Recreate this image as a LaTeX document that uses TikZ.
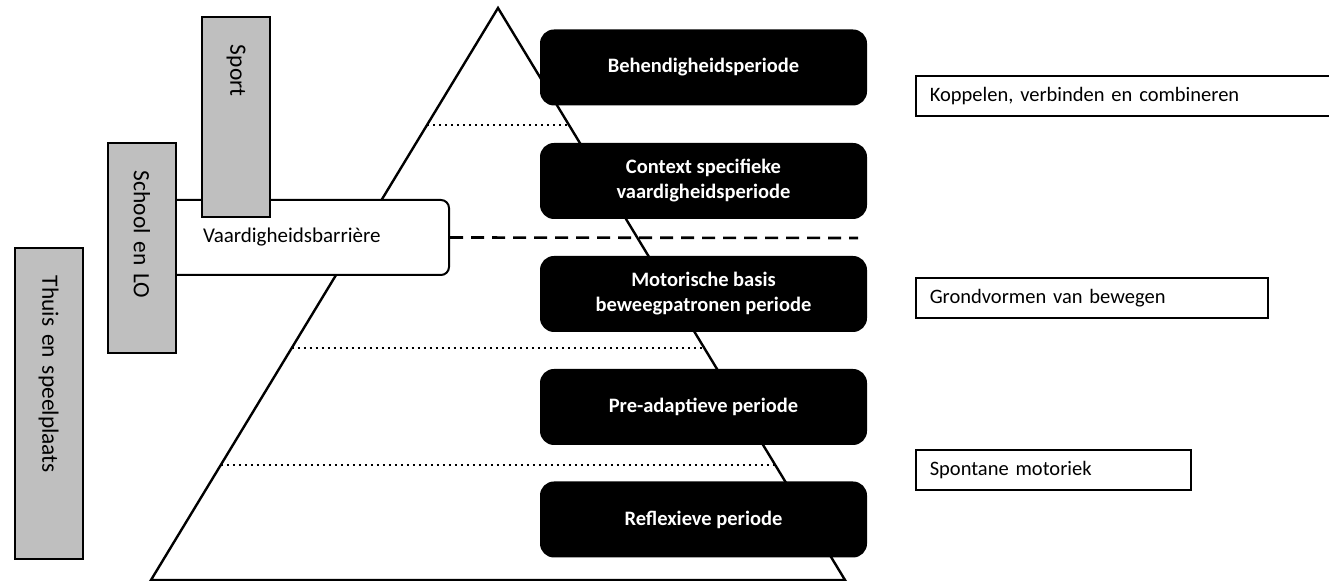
\documentclass[tikz,border=0pt]{standalone}
\usepackage{fontspec}
\setmainfont{Carlito}
\usetikzlibrary{calc,positioning}
\definecolor{boxgray}{RGB}{191,191,191}

\tikzset{
  phasebox/.style={fill=black, text=white, rounded corners=7pt, minimum width=163.5pt,
    minimum height=38pt, inner sep=0pt, align=center, font=\fontsize{10.25}{12.5}\selectfont\bfseries},
  placebox/.style={draw, fill=boxgray, line width=1pt, rotate=-90, minimum height=34pt,
    inner xsep=14pt, text width=#1, align=left, font=\fontsize{11.7}{14}\selectfont},
  barrierbox/.style={draw, fill=white, line width=1pt, rounded corners=4pt, minimum height=37.5pt,
    inner xsep=21pt, text width=102pt, align=left, anchor=west, font=\fontsize{10.5}{12.5}\selectfont},
  notebox/.style={draw, line width=0.8pt, minimum height=20pt, inner xsep=7pt, text width=#1,
    align=left, anchor=west, font=\fontsize{10.25}{12.5}\selectfont},
  levelline/.style={line width=1.2pt, dash pattern=on 1.2pt off 1.8pt},
}

\begin{document}
\begin{tikzpicture}[x=0.5pt,y=-0.5pt] % pixel units, flip y axis
  \useasboundingbox (0,0) rectangle (1329,581);

  % pyramid
  \coordinate (apex) at (498,8);
  \coordinate (baseL) at (151,580);
  \coordinate (baseR) at (845,580);
  \draw[line width=1.2pt] (baseL) -- (apex) -- (baseR) -- cycle;
  \foreach \y in {125,348,465}{
      \draw[levelline] ($(apex)!{(\y-8)/572}!(baseL)$) -- ($(apex)!{(\y-8)/572}!(baseR)$);
    }

  % phases
  \foreach \name/\y/\txt in {behend/67.5/Behendigheidsperiode,
      context/181/{Context specifieke\\vaardigheidsperiode},
      basis/294/{Motorische basis\\beweegpatronen periode},
      preadapt/407/Pre-adaptieve periode,
      reflex/519.5/Reflexieve periode}{
      \node[phasebox] (\name) at (703.5,\y) {\txt};
    }

  % barrier
  \node[barrierbox] (barrier) at (160,237.5) {Vaardigheidsbarrière};
  \coordinate (dashend) at (858,238);
  \draw[line width=1.3pt, dash pattern=on 6.5pt off 4pt] (barrier.east) -- (dashend);

  % settings
  \node[placebox=127.5pt] (thuis) at (48.5,403.5) {Thuis en speelplaats};
  \node[placebox=77pt] (school) at (142,248) {School en LO};
  \node[placebox=72pt] (sport) at (236,117) {Sport};

  % notes
  \node[notebox=196pt] (koppel) at (915,96) {Koppelen, verbinden en combineren};
  \node[notebox=162pt] (grond) at (915,298) {Grondvormen van bewegen};
  \node[notebox=123.5pt] (spontaan) at (915,470) {Spontane motoriek};
\end{tikzpicture}
\end{document}
